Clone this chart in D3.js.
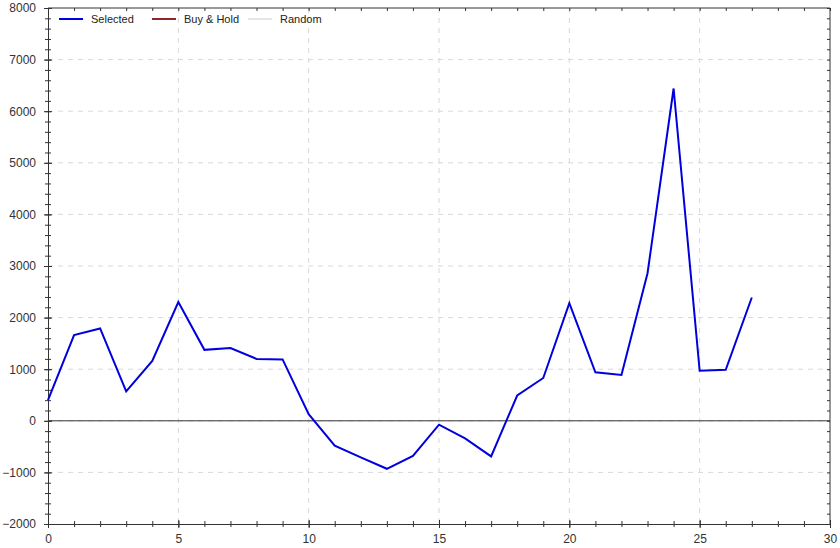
<!DOCTYPE html>
<html><head><meta charset="utf-8">
<script src="https://cdn.jsdelivr.net/npm/d3@7"></script>
<style>body{margin:0;background:#fff}svg{display:block;font-family:"Liberation Sans",Arial,sans-serif}</style>
</head><body><svg id="c" width="840" height="548"></svg>
<script>
const xValues = d3.range(0, 28);
const selected = [400, 1660, 1790, 570, 1160, 2300, 1375, 1410, 1200, 1190, 130, -480, -710, -930, -680, -75, -340, -690, 490, 830, 2280, 940, 890, 2860, 6440, 970, 990, 2390];
const legendNames = ["Selected", "Buy & Hold", "Random"];
const legendColors = ["#0000dd", "#8b2a2a", "#e6e6e6"];
const xTicks = [0, 5, 10, 15, 20, 25, 30];
const yTicks = [-2000, -1000, 0, 1000, 2000, 3000, 4000, 5000, 6000, 7000, 8000];

const svg = d3.select("#c");
const L = 48, R = 830, T = 8, B = 524;
const x = d3.scaleLinear().domain([0, 30]).range([L, R]);
const y = d3.scaleLinear().domain([-2000, 8000]).range([B, T]);

// grid
const g = svg.append("g");
g.selectAll(".gx").data(xTicks.slice(1, -1)).enter().append("line")
  .attr("x1", d => x(d)).attr("x2", d => x(d)).attr("y1", T).attr("y2", B)
  .attr("stroke", "#d8d8d8").attr("stroke-dasharray", "5,5");
g.selectAll(".gy").data(yTicks.slice(1, -1)).enter().append("line")
  .attr("y1", d => y(d)).attr("y2", d => y(d)).attr("x1", L).attr("x2", R)
  .attr("stroke", "#d8d8d8").attr("stroke-dasharray", "5,5");

// zero line
svg.append("line").attr("x1", L).attr("x2", R).attr("y1", y(0)).attr("y2", y(0))
  .attr("stroke", "#333").attr("stroke-width", 1);

// axes
const minorX = d3.range(0, 31, 1);
const minorY = d3.range(-2000, 8001, 200);
const axisCol = "#333";
const axBottom = svg.append("g").attr("transform", `translate(0,${B})`)
  .call(d3.axisBottom(x).tickValues(minorX).tickSize(3).tickFormat(""));
axBottom.selectAll(".tick line").attr("y1", -3);
const axBottomLab = svg.append("g").attr("transform", `translate(0,${B})`)
  .call(d3.axisBottom(x).tickValues(xTicks).tickSize(4).tickPadding(6).tickFormat(d3.format("d")));
axBottomLab.selectAll(".tick line").attr("y1", -4);
const axLeft = svg.append("g").attr("transform", `translate(${L},0)`)
  .call(d3.axisLeft(y).tickValues(minorY).tickSize(3).tickFormat(""));
axLeft.selectAll(".tick line").attr("x1", 3);
const axLeftLab = svg.append("g").attr("transform", `translate(${L},0)`)
  .call(d3.axisLeft(y).tickValues(yTicks).tickSize(4).tickPadding(8).tickFormat(d3.format("d")));
axLeftLab.selectAll(".tick line").attr("x1", 4);
const axTop = svg.append("g").attr("transform", `translate(0,${T})`)
  .call(d3.axisBottom(x).tickValues(minorX).tickSize(3).tickFormat(""));
const axRight = svg.append("g").attr("transform", `translate(${R},0)`)
  .call(d3.axisLeft(y).tickValues(minorY).tickSize(3).tickFormat(""));
[axBottom, axBottomLab, axLeft, axLeftLab, axTop, axRight].forEach(a => {
  a.selectAll("path.domain").attr("stroke", axisCol);
  a.selectAll(".tick line").attr("stroke", axisCol);
  a.selectAll("text").attr("fill", "#333").attr("font-size", 12)
    .attr("font-family", "'Liberation Sans',Arial,sans-serif");
});
[axTop, axRight].forEach(a => a.selectAll("path.domain").remove());
svg.append("line").attr("x1", L).attr("x2", R).attr("y1", T).attr("y2", T).attr("stroke", axisCol);
svg.append("line").attr("x1", R).attr("x2", R).attr("y1", T).attr("y2", B).attr("stroke", axisCol);

// series
const line = d3.line().x((d, i) => x(xValues[i])).y(d => y(d));
svg.append("path").datum(selected).attr("d", line)
  .attr("fill", "none").attr("stroke", legendColors[0]).attr("stroke-width", 2)
  .attr("stroke-linejoin", "miter");

// legend
const legX = [59, 152, 248];
const lg = svg.append("g");
legendNames.forEach((n, i) => {
  lg.append("line").attr("x1", legX[i]).attr("x2", legX[i] + 24).attr("y1", 19).attr("y2", 19)
    .attr("stroke", legendColors[i]).attr("stroke-width", 2);
  lg.append("text").attr("x", legX[i] + 32).attr("y", 23).text(n)
    .attr("font-size", 11).attr("fill", "#222");
});
</script></body></html>
